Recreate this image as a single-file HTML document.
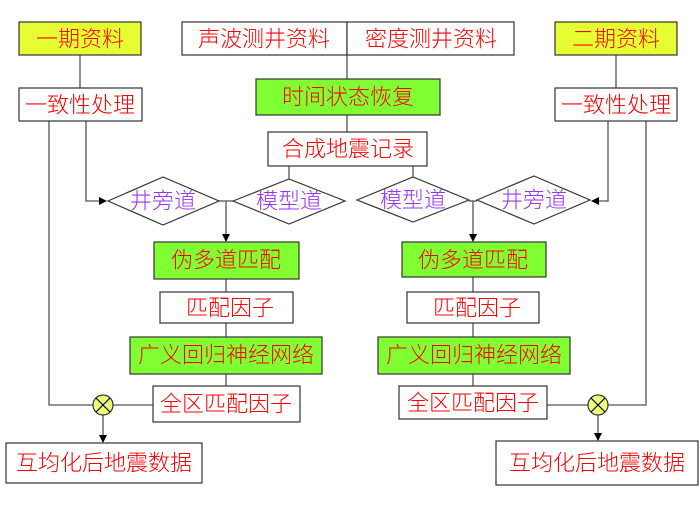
<!DOCTYPE html>
<html><head><meta charset="utf-8"><style>
html,body{margin:0;padding:0;background:#fff}
svg text{font-family:"Liberation Sans","Noto Sans CJK SC",sans-serif;font-size:22px;font-weight:300;fill:#f00;text-anchor:middle;dominant-baseline:central}
</style></head><body>
<svg width="700" height="507" viewBox="0 0 700 507" xmlns="http://www.w3.org/2000/svg">
<defs><marker id="a" markerWidth="8" markerHeight="8" refX="7" refY="4" orient="auto" markerUnits="userSpaceOnUse"><path d="M0,0L8,4L0,8z" fill="#000"/></marker></defs>
<g stroke="#555" stroke-width="1.3" fill="none">
<path d="M80 55V88"/>
<path d="M49 121V405H93"/>
<path d="M113 405H153"/>
<path d="M86 121V201H106" marker-end="url(#a)"/>
<path d="M219 201H233"/>
<path d="M226 201V241" marker-end="url(#a)"/>
<path d="M289 166V179"/>
<path d="M226 279V292M226 323V337M226 374V386"/>
<path d="M103 415V442" marker-end="url(#a)"/>
<path d="M347 55V79M347 115V132"/>
<path d="M413 166V177"/>
<path d="M616 55V88"/>
<path d="M608 121V201H592" marker-end="url(#a)"/>
<path d="M469 201H477"/>
<path d="M473 201V241" marker-end="url(#a)"/>
<path d="M473 277V292M473 323V337M473 374V386"/>
<path d="M547 405H588M608 405H646V121"/>
<path d="M598 415V440" marker-end="url(#a)"/>
</g>
<g stroke="#333" stroke-width="1.2">
<rect x="19" y="22" width="122" height="33" fill="#e6ff33"/>
<rect x="555" y="22" width="122" height="33" fill="#e6ff33"/>
<rect x="19" y="88" width="123" height="33" fill="#fff"/>
<rect x="555" y="88" width="122" height="33" fill="#fff"/>
<rect x="182" y="22" width="165" height="33" fill="#fff"/>
<rect x="347" y="22" width="167" height="33" fill="#fff"/>
<rect x="256" y="79" width="184" height="36" fill="#80ff33"/>
<rect x="268" y="132" width="159" height="34" fill="#fff"/>
<rect x="154" y="242" width="145" height="37" fill="#80ff33"/>
<rect x="402" y="242" width="144" height="35" fill="#80ff33"/>
<rect x="160" y="292" width="133" height="31" fill="#fff"/>
<rect x="407" y="292" width="132" height="31" fill="#fff"/>
<rect x="130" y="337" width="192" height="37" fill="#80ff33"/>
<rect x="378" y="337" width="192" height="37" fill="#80ff33"/>
<rect x="153" y="386" width="147" height="36" fill="#fff"/>
<rect x="399" y="386" width="148" height="33" fill="#fff"/>
<rect x="6" y="443" width="196" height="40" fill="#fff"/>
<rect x="496" y="441" width="202" height="44" fill="#fff"/>
<path d="M108 201L163 177L219 201L163 225Z" fill="#fff"/>
<path d="M233 201L289 179L345 201L289 224Z" fill="#fff"/>
<path d="M357 200L413 177L469 200L413 222Z" fill="#fff"/>
<path d="M477 200L534 176L590 200L534 224Z" fill="#fff"/>
<circle cx="103" cy="405" r="10" fill="#eeff77"/>
<circle cx="598" cy="405" r="10" fill="#eeff77"/>
<path d="M96 398L110 412M110 398L96 412M591 398L605 412M605 398L591 412" stroke="#000"/>
</g>
<text x="80" y="39">一期资料</text>
<text x="616" y="39">二期资料</text>
<text x="80" y="105">一致性处理</text>
<text x="616" y="105">一致性处理</text>
<text x="264" y="39">声波测井资料</text>
<text x="431" y="39">密度测井资料</text>
<text x="348" y="97">时间状态恢复</text>
<text x="348" y="149">合成地震记录</text>
<text x="163" y="201" style="fill:#9933ff">井旁道</text>
<text x="289" y="201" style="fill:#9933ff">模型道</text>
<text x="413" y="200" style="fill:#9933ff">模型道</text>
<text x="534" y="200" style="fill:#9933ff">井旁道</text>
<text x="226" y="260">伪多道匹配</text>
<text x="473" y="260">伪多道匹配</text>
<text x="230" y="308">匹配因子</text>
<text x="477" y="308">匹配因子</text>
<text x="226" y="355">广义回归神经网络</text>
<text x="474" y="355">广义回归神经网络</text>
<text x="226" y="404">全区匹配因子</text>
<text x="473" y="403">全区匹配因子</text>
<text x="104" y="463">互均化后地震数据</text>
<text x="597" y="463">互均化后地震数据</text>
</svg>
</body></html>
